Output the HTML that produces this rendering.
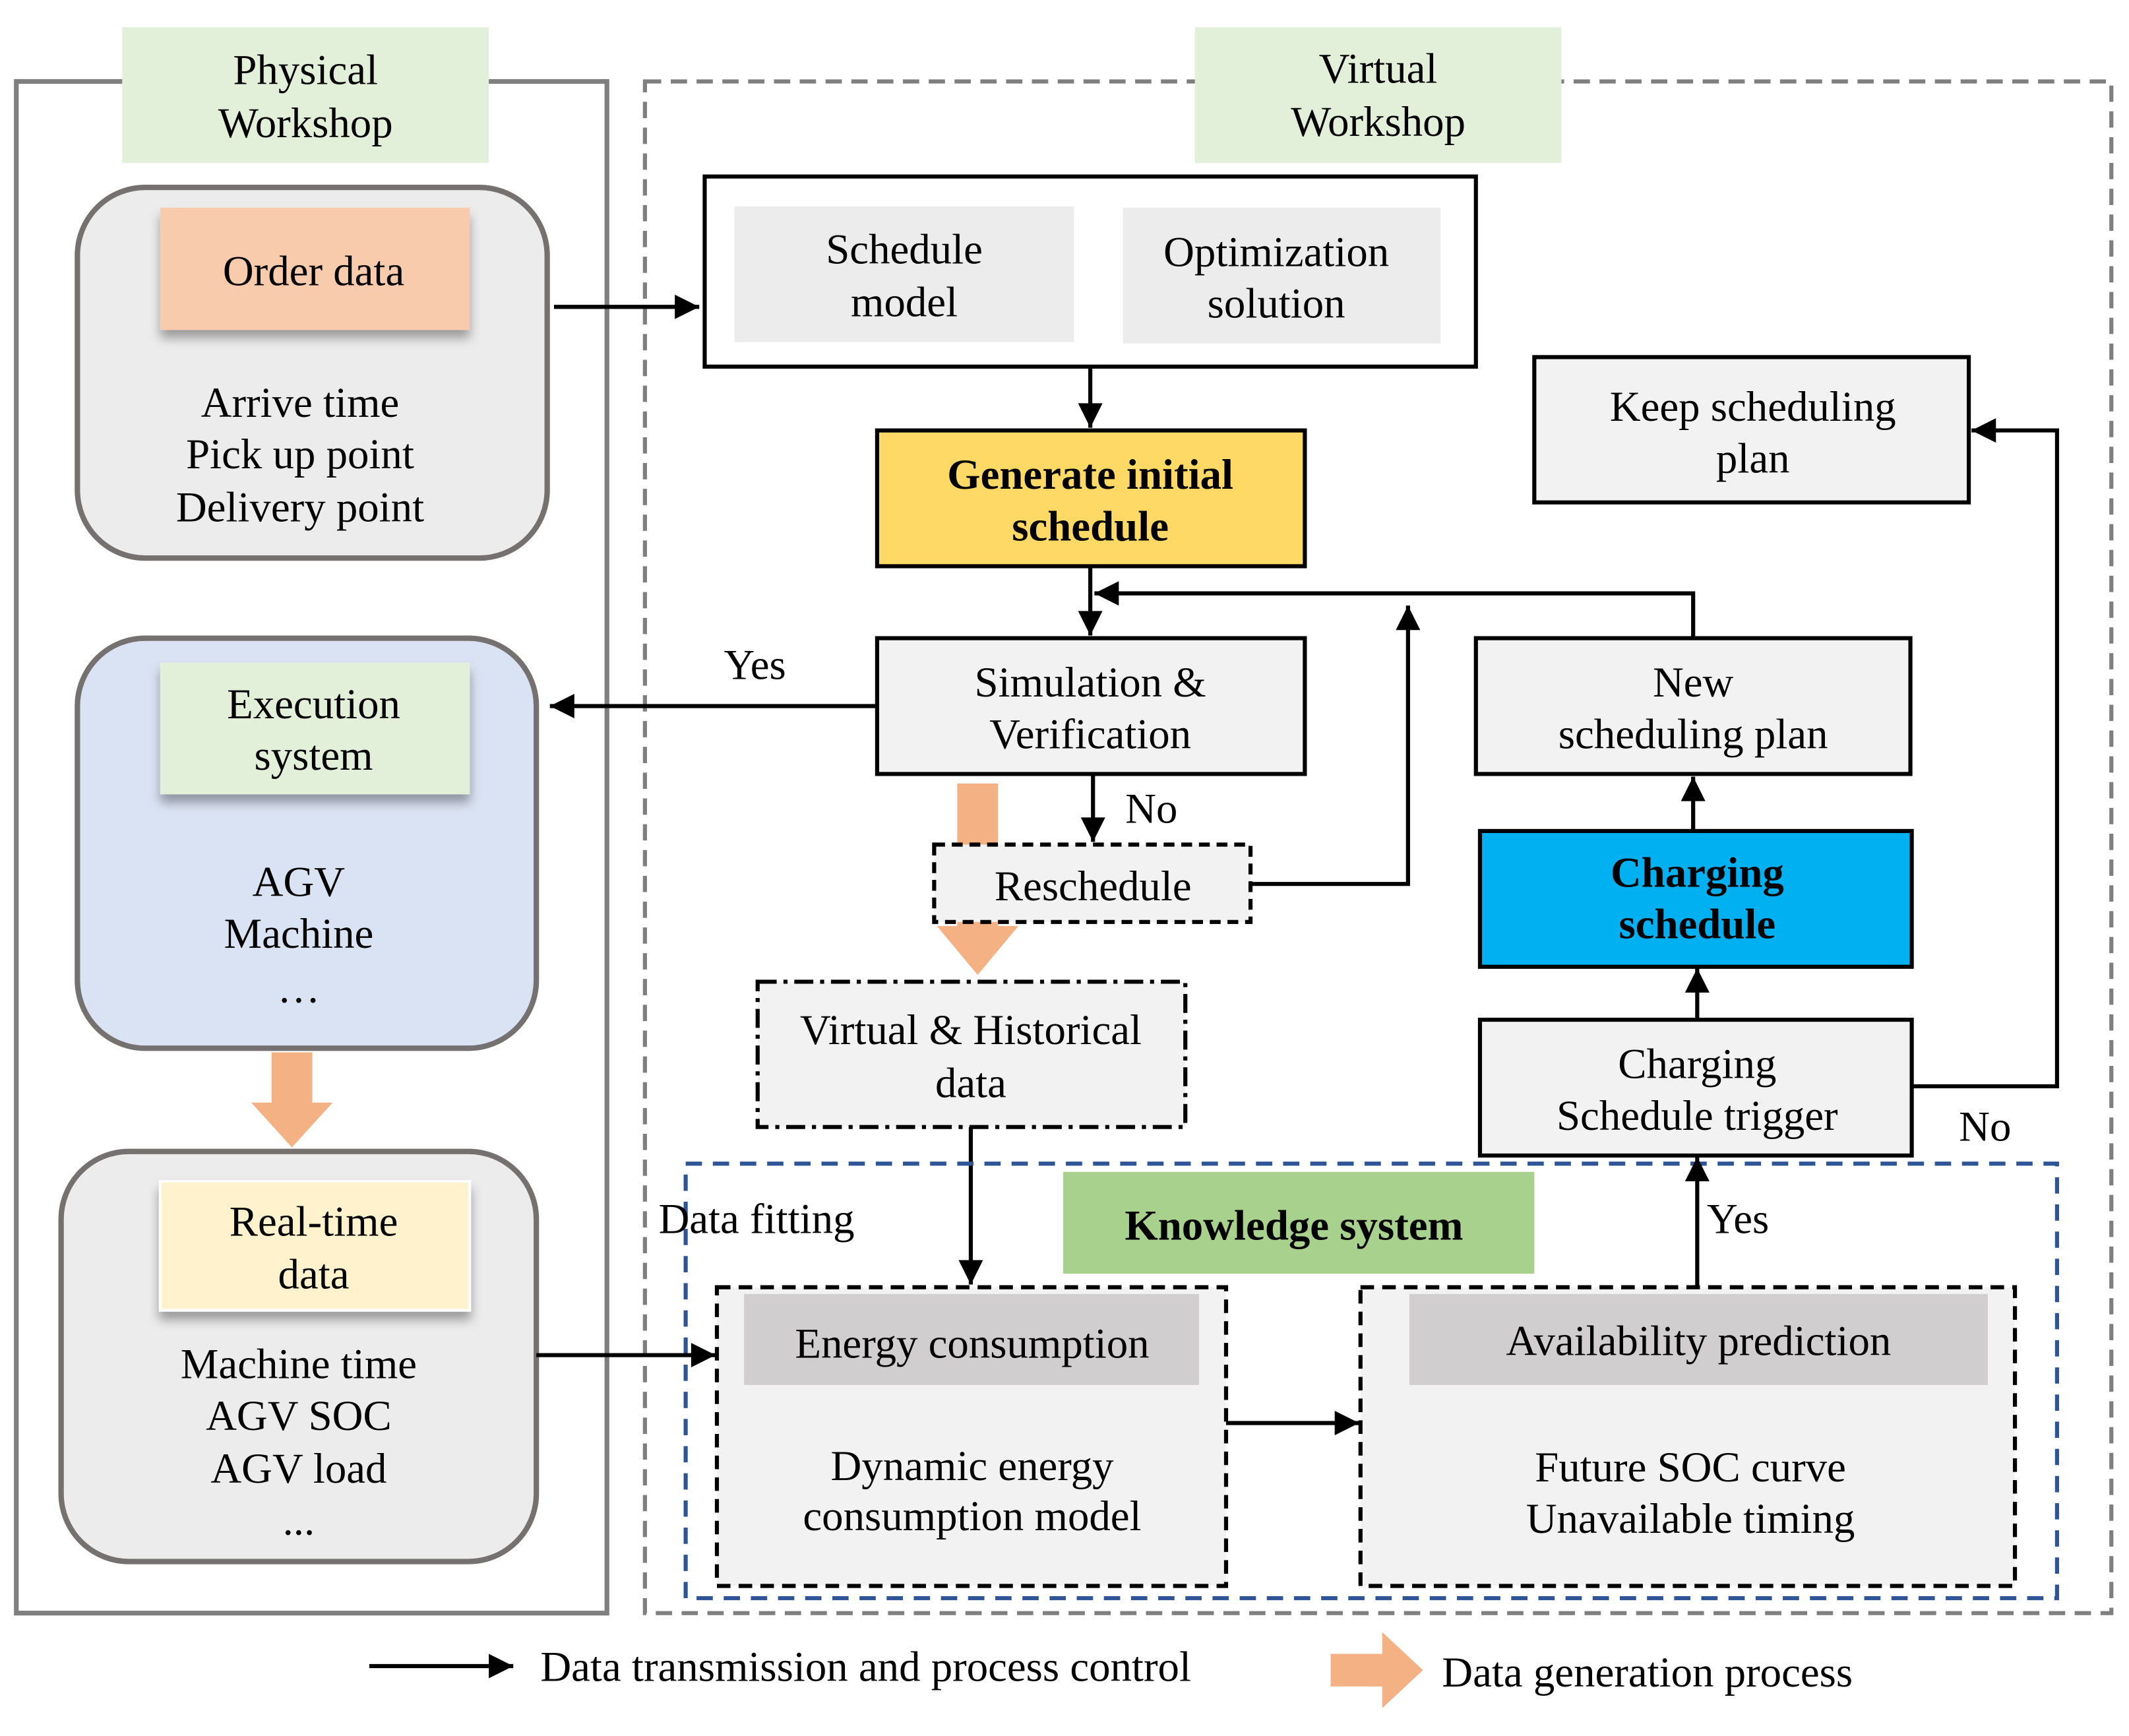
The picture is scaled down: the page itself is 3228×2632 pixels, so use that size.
<!DOCTYPE html>
<html><head><meta charset="utf-8"><style>
html,body{margin:0;padding:0;background:#fff;}
svg{display:block;}
text{font-family:"Liberation Serif",serif;font-size:31.5px;fill:#000;text-anchor:middle;}
.b{font-weight:bold;}
</style></head><body>
<svg width="3228" height="2632" viewBox="0 0 1568 1278.5" preserveAspectRatio="none" xmlns="http://www.w3.org/2000/svg">
<defs>
<marker id="ah2" viewBox="0 0 10 10" refX="10" refY="5" markerWidth="20" markerHeight="18" orient="auto" markerUnits="userSpaceOnUse">
<path d="M0,0 L10,5 L0,10 z" fill="#000"/></marker>
<filter id="sh" x="-20%" y="-20%" width="140%" height="160%"><feDropShadow dx="0" dy="6" stdDeviation="4" flood-color="#000" flood-opacity="0.35"/></filter>
</defs>

<rect x="12" y="60" width="435" height="1128" fill="none" stroke="#7f7f7f" stroke-width="3.5"/>
<rect x="90" y="20" width="270" height="100" fill="#e2efd9"/>
<text x="225" y="62">Physical</text><text x="225" y="101">Workshop</text>

<rect x="57" y="138" width="346" height="273" rx="50" fill="#ececec" stroke="#767171" stroke-width="4"/>
<rect x="118" y="153" width="228" height="90" fill="#f8cbad" filter="url(#sh)"/>
<text x="231" y="210">Order data</text>
<text x="221" y="307">Arrive time</text><text x="221" y="345">Pick up point</text><text x="221" y="384">Delivery point</text>

<rect x="57" y="470" width="338" height="302" rx="50" fill="#dae3f3" stroke="#767171" stroke-width="4"/>
<rect x="118" y="488" width="228" height="97" fill="#e2efd9" filter="url(#sh)"/>
<text x="231" y="529">Execution</text><text x="231" y="567">system</text>
<text x="220" y="660">AGV</text><text x="220" y="698">Machine</text><text x="220" y="738">…</text>

<path d="M200,775 H230 V812 H245 L215,845 L185,812 H200 Z" fill="#f4b183"/>

<rect x="45" y="848" width="350" height="302" rx="50" fill="#ececec" stroke="#767171" stroke-width="4"/>
<rect x="118" y="870" width="228" height="95" fill="#fff2cc" stroke="#fff" stroke-width="2" filter="url(#sh)"/>
<text x="231" y="910">Real-time</text><text x="231" y="949">data</text>
<text x="220" y="1015">Machine time</text><text x="220" y="1053">AGV SOC</text><text x="220" y="1092">AGV load</text><text x="220" y="1130">...</text>

<rect x="475" y="60" width="1080" height="1128" fill="none" stroke="#7f7f7f" stroke-width="3" stroke-dasharray="12,7"/>
<rect x="880" y="20" width="270" height="100" fill="#e2efd9"/>
<text x="1015" y="61">Virtual</text><text x="1015" y="100">Workshop</text>

<rect x="519" y="130" width="568" height="140" fill="#fff" stroke="#000" stroke-width="3"/>
<rect x="541" y="152" width="250" height="100" fill="#ececec"/>
<rect x="827" y="153" width="234" height="100" fill="#ececec"/>
<text x="666" y="194">Schedule</text><text x="666" y="233">model</text>
<text x="940" y="196">Optimization</text><text x="940" y="234">solution</text>

<line x1="408" y1="226" x2="515" y2="226" stroke="#000" stroke-width="3" marker-end="url(#ah2)"/>
<line x1="803" y1="270" x2="803" y2="315" stroke="#000" stroke-width="3" marker-end="url(#ah2)"/>

<rect x="646" y="317" width="315" height="100" fill="#ffd966" stroke="#000" stroke-width="3"/>
<text class="b" x="803" y="360">Generate  initial</text><text class="b" x="803" y="398">schedule</text>

<line x1="803" y1="417" x2="803" y2="468" stroke="#000" stroke-width="3" marker-end="url(#ah2)"/>
<polyline points="1247,470 1247,437 806,437" fill="none" stroke="#000" stroke-width="3" marker-end="url(#ah2)"/>

<rect x="646" y="470" width="315" height="100" fill="#f2f2f2" stroke="#000" stroke-width="3"/>
<text x="803" y="513">Simulation &amp;</text><text x="803" y="551">Verification</text>

<line x1="646" y1="520" x2="405" y2="520" stroke="#000" stroke-width="3" marker-end="url(#ah2)"/>
<text x="556" y="500">Yes</text>
<line x1="805" y1="570" x2="805" y2="620" stroke="#000" stroke-width="3" marker-end="url(#ah2)"/>
<text x="848" y="606">No</text>

<path d="M705,577 H735 V682 H750 L720,718 L690,682 H705 Z" fill="#f4b183"/>

<rect x="688" y="622" width="233" height="57" fill="#f2f2f2" stroke="#000" stroke-width="3" stroke-dasharray="8,5"/>
<text x="805" y="663">Reschedule</text>
<polyline points="921,651 1037,651 1037,446" fill="none" stroke="#000" stroke-width="3" marker-end="url(#ah2)"/>

<rect x="558" y="723" width="315" height="107" fill="#f2f2f2" stroke="#000" stroke-width="3" stroke-dasharray="14,5,3,5"/>
<text x="715" y="769">Virtual &amp; Historical</text><text x="715" y="808">data</text>
<line x1="715" y1="830" x2="715" y2="946" stroke="#000" stroke-width="3" marker-end="url(#ah2)"/>

<rect x="505" y="857" width="1010" height="320" fill="none" stroke="#2f5597" stroke-width="3" stroke-dasharray="12,8"/>
<rect x="783" y="863" width="347" height="75" fill="#a9d18e"/>
<text class="b" x="953" y="913">Knowledge system</text>
<text x="485" y="908" style="text-anchor:start">Data fitting</text>

<rect x="528" y="948" width="375" height="220" fill="#f2f2f2" stroke="#000" stroke-width="3" stroke-dasharray="10,6"/>
<rect x="548" y="953" width="335" height="67" fill="#d0cece"/>
<text x="716" y="1000">Energy consumption</text>
<text x="716" y="1090">Dynamic energy</text><text x="716" y="1127">consumption model</text>
<line x1="395" y1="998" x2="527" y2="998" stroke="#000" stroke-width="3" marker-end="url(#ah2)"/>
<line x1="903" y1="1048" x2="1001" y2="1048" stroke="#000" stroke-width="3" marker-end="url(#ah2)"/>

<rect x="1002" y="948" width="482" height="220" fill="#f2f2f2" stroke="#000" stroke-width="3" stroke-dasharray="10,6"/>
<rect x="1038" y="953" width="426" height="67" fill="#d0cece"/>
<text x="1251" y="998">Availability prediction</text>
<text x="1245" y="1091">Future SOC curve</text><text x="1245" y="1129">Unavailable timing</text>

<line x1="1250" y1="948" x2="1250" y2="852" stroke="#000" stroke-width="3" marker-end="url(#ah2)"/>
<text x="1280" y="908">Yes</text>

<rect x="1090" y="751" width="318" height="100" fill="#f2f2f2" stroke="#000" stroke-width="3"/>
<text x="1250" y="794">Charging</text><text x="1250" y="832">Schedule trigger</text>
<line x1="1250" y1="751" x2="1250" y2="713" stroke="#000" stroke-width="3" marker-end="url(#ah2)"/>

<rect x="1090" y="612" width="318" height="100" fill="#00b0f0" stroke="#000" stroke-width="3"/>
<text class="b" x="1250" y="653">Charging</text><text class="b" x="1250" y="691">schedule</text>
<line x1="1247" y1="612" x2="1247" y2="572" stroke="#000" stroke-width="3" marker-end="url(#ah2)"/>

<rect x="1087" y="470" width="320" height="100" fill="#f2f2f2" stroke="#000" stroke-width="3"/>
<text x="1247" y="513">New</text><text x="1247" y="551">scheduling plan</text>

<rect x="1130" y="263" width="320" height="107" fill="#f2f2f2" stroke="#000" stroke-width="3"/>
<text x="1291" y="310">Keep scheduling</text><text x="1291" y="348">plan</text>
<polyline points="1408,800 1515,800 1515,317 1452,317" fill="none" stroke="#000" stroke-width="3" marker-end="url(#ah2)"/>
<text x="1462" y="840">No</text>

<line x1="272" y1="1227" x2="378" y2="1227" stroke="#000" stroke-width="3" marker-end="url(#ah2)"/>
<text x="398" y="1238" style="text-anchor:start">Data transmission and process control</text>
<path d="M980,1218 H1018 V1202 L1048,1230 L1018,1258 V1242 H980 Z" fill="#f4b183"/>
<text x="1062" y="1242" style="text-anchor:start">Data generation process</text>
</svg>
</body></html>
